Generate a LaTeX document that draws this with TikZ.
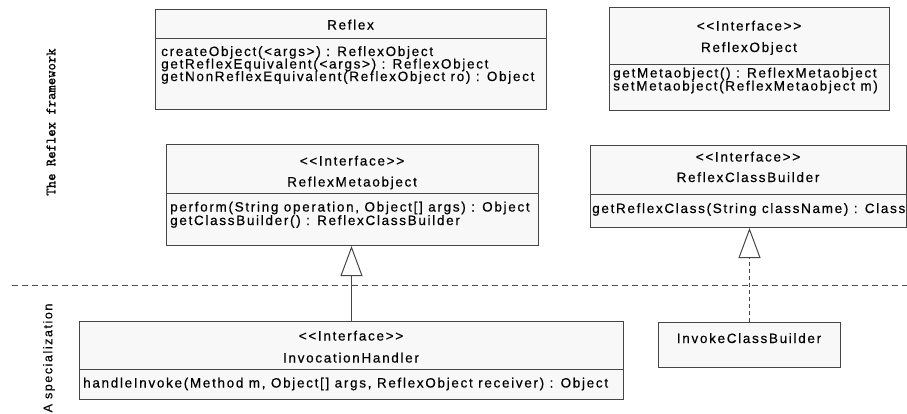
\documentclass[tikz,border=0pt]{standalone}
\usepackage{fontspec}
\setmainfont{Liberation Sans}[LetterSpace=12.5, FakeBold=0.4]
\newfontfamily\framefont{Latin Modern Mono}[FakeBold=1.2]
\usetikzlibrary{arrows.meta}

\definecolor{boxline}{RGB}{70,70,70}
\definecolor{boxfill}{RGB}{248,248,248}
\definecolor{sepline}{RGB}{80,80,80}

% stereotype text, kept free of the << and >> ligatures
\newcommand{\stereo}[1]{<{}<#1>{}>}

\begin{document}
\begin{tikzpicture}[x=1pt,y=-1pt,
  umlbox/.style={draw=boxline, fill=boxfill, line width=1pt, inner sep=0pt, anchor=north west},
  divider/.style={draw=boxline, line width=1pt},
  txt/.style={inner sep=0pt, text height=10pt, text depth=3pt, font=\fontsize{13.5}{15}\selectfont},
  member/.style={txt, anchor=west},
  realizes/.style={draw=boxline, line width=1pt, -{Triangle[open, length=30pt, width=22pt]}},
  sidelabel/.style={rotate=90, inner sep=0pt}]

\useasboundingbox (0,0) rectangle (907,413);

% --- Reflex
\node[umlbox, minimum width=391pt, minimum height=100pt] (reflex) at (155,9) {};
\draw[divider] (reflex.west |- 0,38) -- (reflex.east |- 0,38);
\node[txt] (reflexname) at (350.5,26) {Reflex};
\node[member] (reflexm1) at (161,52.5) {createObject(<args>) : ReflexObject};
\node[member] (reflexm2) at (161,65) {getReflexEquivalent(<args>) : ReflexObject};
\node[member] (reflexm3) at (161,77.5) {getNonReflexEquivalent(ReflexObject ro) : Object};

% --- ReflexObject
\node[umlbox, minimum width=280pt, minimum height=103pt] (robj) at (609,7) {};
\draw[divider] (robj.west |- 0,64) -- (robj.east |- 0,64);
\node[txt] (robjst) at (749,27) {\stereo{Interface}};
\node[txt] (robjname) at (749,48.5) {ReflexObject};
\node[member] (robjm1) at (613,74) {getMetaobject() : ReflexMetaobject};
\node[member] (robjm2) at (613,87) {setMetaobject(ReflexMetaobject m)};

% --- ReflexMetaobject
\node[umlbox, minimum width=372pt, minimum height=101pt] (rmo) at (166,144) {};
\draw[divider] (rmo.west |- 0,193) -- (rmo.east |- 0,193);
\node[txt] (rmost) at (352,162) {\stereo{Interface}};
\node[txt] (rmoname) at (352,183) {ReflexMetaobject};
\node[member] (rmom1) at (170,208) {perform(String operation, Object[] args) : Object};
\node[member] (rmom2) at (170,221.5) {getClassBuilder() : ReflexClassBuilder};

% --- ReflexClassBuilder
\node[umlbox, minimum width=316pt, minimum height=82pt] (rcb) at (590,145) {};
\draw[divider] (rcb.west |- 0,194) -- (rcb.east |- 0,194);
\node[txt] (rcbst) at (748,158) {\stereo{Interface}};
\node[txt] (rcbname) at (748,178.5) {ReflexClassBuilder};
\node[member] (rcbm1) at (592,209.5) {getReflexClass(String className) : Class};

% --- InvocationHandler
\node[umlbox, minimum width=544pt, minimum height=78pt] (ih) at (79,321) {};
\draw[divider] (ih.west |- 0,369) -- (ih.east |- 0,369);
\node[txt] (ihst) at (351,337) {\stereo{Interface}};
\node[txt] (ihname) at (351,359) {InvocationHandler};
\node[member] (ihm1) at (83,384) {handleInvoke(Method m, Object[] args, ReflexObject receiver) : Object};

% --- InvokeClassBuilder
\node[umlbox, minimum width=182pt, minimum height=45pt] (icb) at (658,322) {};
\node[txt] (icbname) at (749,339.5) {InvokeClassBuilder};

% --- realizations
\draw[realizes] (ih.north) -- (ih.north |- rmo.south);
\draw[realizes, dash pattern=on 4pt off 3pt] (icb.north) -- (icb.north |- rcb.south);

% --- layer separator and layer labels
\coordinate (sepL) at (12,285);
\coordinate (sepR) at (907,285);
\draw[sepline, line width=1pt, dash pattern=on 6pt off 4pt] (sepL) -- (sepR);
\node[sidelabel, font=\framefont\fontsize{14.3}{16}\selectfont] (fwlabel) at (51,122) {The Reflex framework};
\node[sidelabel, font=\fontsize{12.5}{14}\selectfont] (splabel) at (49,358) {A specialization};

\end{tikzpicture}
\end{document}
